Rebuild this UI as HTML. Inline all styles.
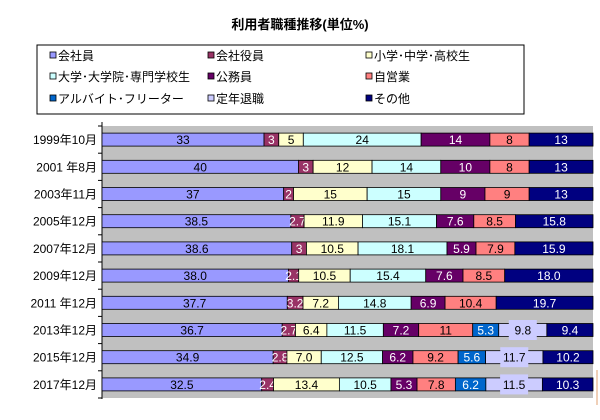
<!DOCTYPE html>
<html><head><meta charset="utf-8"><style>
body{margin:0;background:#fff;width:600px;height:415px;overflow:hidden;font-family:"Liberation Sans","Noto Sans CJK JP",sans-serif}
</style></head><body>
<svg id="chart" width="600" height="415" xmlns="http://www.w3.org/2000/svg" font-family="Liberation Sans, Noto Sans CJK JP, sans-serif">
<text x="300" y="29" text-anchor="middle" font-size="13" font-weight="bold">利用者職種推移(単位%)</text>
<rect x="37" y="45" width="487" height="69" fill="#fff" stroke="#000" stroke-width="1"/>
<g id="legend"></g>
<rect x="102" y="126" width="491" height="272" fill="#C0C0C0"/>
<line x1="102" y1="122" x2="102" y2="399" stroke="#000"/>
<line x1="597" y1="370" x2="597" y2="405" stroke="#E0A070"/>
<g id="bars"></g>
</svg>
<script>
const categories=["1999年10月","2001 年8月","2003年11月","2005年12月","2007年12月","2009年12月","2011 年12月","2013年12月","2015年12月","2017年12月"];
const seriesNames=["会社員","会社役員","小学･中学･高校生","大学･大学院･専門学校生","公務員","自営業","アルバイト･フリーター","定年退職","その他"];
const seriesColors=["#9999FF","#993366","#FFFFCC","#CCFFFF","#660066","#FF8080","#0066CC","#CCCCFF","#000080"];
const textColors=["#000","#fff","#000","#000","#fff","#000","#fff","#000","#fff"];
const kaishain=[33,40,37,38.5,38.6,38.0,37.7,36.7,34.9,32.5];
const yakuin=[3,3,2,2.7,3,2.1,3.2,2.7,2.8,2.4];
const shochuko=[5,12,15,11.9,10.5,10.5,7.2,6.4,7.0,13.4];
const daigaku=[24,14,15,15.1,18.1,15.4,14.8,11.5,12.5,10.5];
const komuin=[14,10,9,7.6,5.9,7.6,6.9,7.2,6.2,5.3];
const jiei=[8,8,9,8.5,7.9,8.5,10.4,11,9.2,7.8];
const arubaito=[0,0,0,0,0,0,0,5.3,5.6,6.2];
const teinen=[0,0,0,0,0,0,0,9.8,11.7,11.5];
const sonota=[13,13,13,15.8,15.9,18.0,19.7,9.4,10.2,10.3];
const decimals=[0,0,0,0,0,1,1,1,1,1];
const series=[kaishain,yakuin,shochuko,daigaku,komuin,jiei,arubaito,teinen,sonota];
const NS="http://www.w3.org/2000/svg";
const X0=102,X1=593,Y0=126,Y1=398;
const band=(Y1-Y0)/categories.length;
function xScale(p){return X0+p/100*(X1-X0);}
function yBand(i){return Y0+i*band;}
function fmt(v,i){if(!decimals[i])return String(v);if(Number.isInteger(v)&&v!==11)return v.toFixed(1);return String(v);}
const bars=document.getElementById('bars');
categories.forEach((c,i)=>{
  const yb=yBand(i);
  const t=document.createElementNS(NS,'text');
  
  
  t.setAttribute('x',97);t.setAttribute('y',yb+band/2+4.5);t.setAttribute('text-anchor','end');t.setAttribute('font-size','12');
  t.textContent=c;bars.appendChild(t);
  const tk=document.createElementNS(NS,'line');
  
  
  tk.setAttribute('x1',98);tk.setAttribute('x2',102);tk.setAttribute('y1',yb);tk.setAttribute('y2',yb);tk.setAttribute('stroke','#000');bars.appendChild(tk);
  let total=0;series.forEach(s=>total+=s[i]);
  let cum=0;
  series.forEach((s,k)=>{
    const v=s[i];if(!v)return;
    const xa=xScale(cum/total*100),xb=xScale((cum+v)/total*100);cum+=v;
    const r=document.createElementNS(NS,'rect');
    
    
    r.setAttribute('x',xa);r.setAttribute('y',yb+band/2-6.5);r.setAttribute('width',xb-xa);r.setAttribute('height',13);
    r.setAttribute('fill',seriesColors[k]);r.setAttribute('stroke','#000');r.setAttribute('stroke-width','0.8');bars.appendChild(r);
    const cx=(xa+xb)/2;
    if(k===7){
      const bg=document.createElementNS(NS,'rect');
      
      
      bg.setAttribute('x',cx-14);bg.setAttribute('y',yb+band/2-10);bg.setAttribute('width',28);bg.setAttribute('height',20);bg.setAttribute('fill','#CCCCFF');bars.appendChild(bg);
    }
    const lt=document.createElementNS(NS,'text');
    
    
    lt.setAttribute('x',cx);lt.setAttribute('y',yb+band/2+4.5);lt.setAttribute('text-anchor','middle');lt.setAttribute('font-size','12');lt.setAttribute('fill',textColors[k]);
    lt.textContent=fmt(v,i);bars.appendChild(lt);
  });
});
const bt=document.createElementNS(NS,'line');


bt.setAttribute('x1',98);bt.setAttribute('x2',102);bt.setAttribute('y1',Y1);bt.setAttribute('y2',Y1);bt.setAttribute('stroke','#000');bars.appendChild(bt);
const lg=document.getElementById('legend');
const colX=[50,208,366],rowY=[56,77,99];
seriesNames.forEach((n,k)=>{
  const x=colX[k%3],y=rowY[Math.floor(k/3)];
  const sw=document.createElementNS(NS,'rect');
  
  
  sw.setAttribute('x',x);sw.setAttribute('y',y-4);sw.setAttribute('width',6);sw.setAttribute('height',6);sw.setAttribute('fill',seriesColors[k]);sw.setAttribute('stroke','#000');sw.setAttribute('stroke-width','0.8');lg.appendChild(sw);
  const t=document.createElementNS(NS,'text');
  
  
  t.setAttribute('x',x+8);t.setAttribute('y',y+4);t.setAttribute('font-size','12');t.textContent=n;lg.appendChild(t);
});
</script>
</body></html>
